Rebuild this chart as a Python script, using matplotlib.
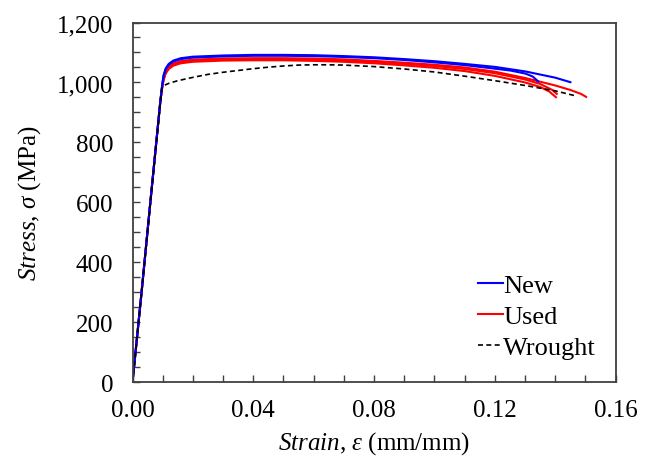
import matplotlib
matplotlib.use("Agg")
import matplotlib.pyplot as plt
from matplotlib.ticker import MultipleLocator, FuncFormatter

plt.rcParams['font.family'] = ['Liberation Serif', 'DejaVu Serif']
plt.rcParams['mathtext.fontset'] = 'custom'
plt.rcParams['mathtext.rm'] = 'Liberation Serif'
plt.rcParams['mathtext.it'] = 'Liberation Serif:italic'

# Tensile curves: strain (mm/mm) and stress (MPa)
new1_strain = [0, 0.003, 0.006, 0.0092, 0.0098, 0.0103, 0.011, 0.012, 0.0135, 0.016, 0.02,
               0.03, 0.04, 0.05, 0.06, 0.07, 0.08, 0.09, 0.10, 0.11, 0.12, 0.13, 0.14, 0.145]
new1_stress = [0, 300, 610, 935, 990, 1025, 1047, 1062, 1073, 1081, 1086,
               1090, 1092, 1092, 1091, 1088, 1084, 1078, 1071, 1062, 1052, 1037, 1016, 1001]

new2_strain = [0, 0.003, 0.006, 0.0092, 0.0098, 0.0103, 0.011, 0.012, 0.0135, 0.016, 0.02,
               0.03, 0.04, 0.05, 0.06, 0.07, 0.08, 0.09, 0.10, 0.11, 0.12, 0.125, 0.13, 0.1325, 0.1344]
new2_stress = [0, 300, 610, 935, 988, 1022, 1044, 1059, 1070, 1078, 1083,
               1087, 1089, 1089, 1088, 1085, 1081, 1075, 1067, 1058, 1046, 1040, 1030, 1020, 1003]

used1_strain = [0, 0.003, 0.006, 0.0092, 0.0098, 0.0103, 0.011, 0.012, 0.0135, 0.016, 0.02,
                0.03, 0.04, 0.05, 0.06, 0.07, 0.08, 0.09, 0.10, 0.11, 0.12, 0.13, 0.14, 0.145,
                0.1485, 0.1502]
used1_stress = [0, 300, 610, 935, 985, 1015, 1037, 1052, 1063, 1071, 1076,
                1080, 1081, 1081, 1080, 1077, 1072, 1066, 1059, 1050, 1036, 1015, 990, 975,
                962, 952]

used2_strain = [0, 0.003, 0.006, 0.0092, 0.0098, 0.0103, 0.011, 0.012, 0.0135, 0.016, 0.02,
                0.03, 0.04, 0.05, 0.06, 0.07, 0.08, 0.09, 0.10, 0.11, 0.12, 0.13, 0.135, 0.138,
                0.1402]
used2_stress = [0, 300, 610, 935, 980, 1008, 1030, 1045, 1056, 1064, 1069,
                1073, 1074, 1074, 1072, 1069, 1064, 1057, 1049, 1038, 1022, 1000, 985, 970,
                951]

used3_strain = [0, 0.003, 0.006, 0.0092, 0.0098, 0.0103, 0.011, 0.012, 0.0135, 0.016, 0.02,
                0.03, 0.04, 0.05, 0.06, 0.07, 0.08, 0.09, 0.10, 0.11, 0.12, 0.13, 0.135, 0.139,
                0.1405]
used3_stress = [0, 300, 610, 935, 982, 1011, 1033, 1048, 1059, 1067, 1072,
                1076, 1077, 1077, 1076, 1073, 1068, 1062, 1055, 1045, 1031, 1010, 995, 975,
                962]

wrought_strain = [0, 0.003, 0.006, 0.0092, 0.0097, 0.0102, 0.012, 0.015, 0.02, 0.025, 0.03,
                  0.035, 0.04, 0.045, 0.05, 0.055, 0.06, 0.065, 0.07, 0.08, 0.09, 0.10, 0.11,
                  0.12, 0.13, 0.14, 0.1465]
wrought_stress = [0, 300, 605, 930, 978, 989, 997, 1006, 1017, 1027, 1034,
                  1040, 1046, 1051, 1055, 1058, 1059, 1059, 1058, 1053, 1045, 1035, 1021,
                  1006, 990, 972, 956]

x_ticks = [0.00, 0.04, 0.08, 0.12, 0.16]
y_ticks = [0, 200, 400, 600, 800, 1000, 1200]

fig = plt.figure(figsize=(6.54, 4.60), dpi=100)
ax = fig.add_axes([0.2026, 0.1667, 0.7388, 0.7822])

blue = '#0000ff'
red = '#ff0000'
lw = 1.5

ax.plot(used1_strain, used1_stress, color=red, lw=lw)
ax.plot(used2_strain, used2_stress, color=red, lw=lw)
ax.plot(used3_strain, used3_stress, color=red, lw=lw)
ax.plot(new1_strain, new1_stress, color=blue, lw=lw, label='New')
ax.plot(new2_strain, new2_stress, color=blue, lw=lw)
ax.plot([], [], color=red, lw=lw, label='Used')
ax.plot(wrought_strain, wrought_stress, color='black', lw=1.2, ls=(0, (3, 2)), label='Wrought')

ax.set_xlim(0, 0.16)
ax.set_ylim(0, 1200)
ax.set_xticks(x_ticks)
ax.set_yticks(y_ticks)
ax.xaxis.set_minor_locator(MultipleLocator(0.01))
ax.yaxis.set_minor_locator(MultipleLocator(50))
ax.xaxis.set_major_formatter(FuncFormatter(lambda v, p: f'{v:.2f}'))
ax.yaxis.set_major_formatter(FuncFormatter(lambda v, p: f'{int(round(v)):,}'))

spine_color = '#404040'
for s in ax.spines.values():
    s.set_color(spine_color)
    s.set_linewidth(1.3)
ax.tick_params(which='both', direction='in', length=5, width=1.0, color=spine_color,
               labelsize=18, top=False, right=False)
ax.tick_params(axis='x', which='major', pad=12)
ax.tick_params(axis='y', which='major', pad=14)

ax.set_xlabel(r'$Strain$, $\varepsilon$ (mm/mm)', fontsize=18, labelpad=6)
ax.set_ylabel(r'$Stress$, $\sigma$ (MPa)', fontsize=18, labelpad=10)

leg = ax.legend(loc='lower right', frameon=False, fontsize=19, handlelength=0.95,
                handletextpad=0.0, labelspacing=0.28, borderaxespad=0.0,
                bbox_to_anchor=(0.981, 0.036))

fig.savefig('out.png', dpi=100)
